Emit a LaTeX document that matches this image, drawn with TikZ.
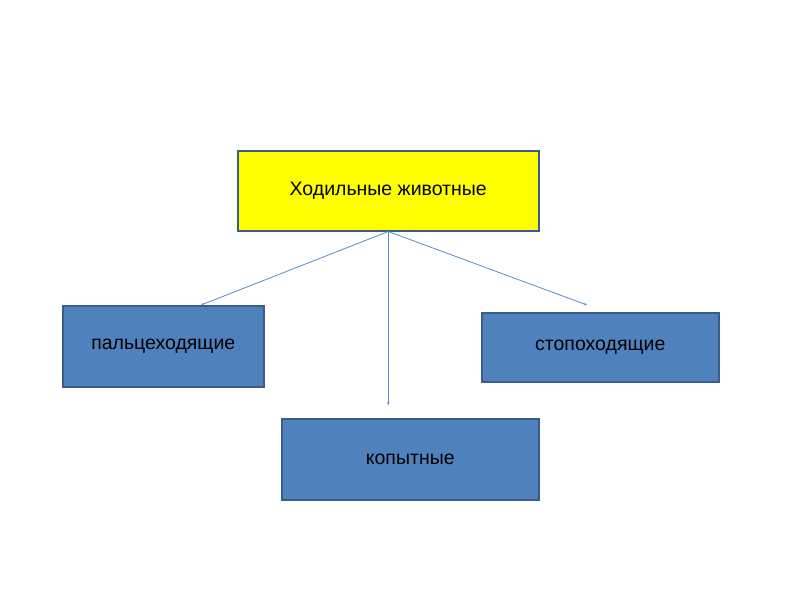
\documentclass[tikz,border=0pt]{standalone}
\usepackage{fontspec}
\setmainfont{Liberation Sans}
\usetikzlibrary{arrows.meta}
\definecolor{boxblue}{HTML}{4F81BD}
\definecolor{boxedge}{HTML}{385D8A}
\definecolor{topyellow}{HTML}{FFFF00}
\definecolor{linkblue}{HTML}{5B8CC8}
\begin{document}
\begin{tikzpicture}[x=1pt,y=-1pt,
  box/.style={draw=boxedge,line width=1.5pt,anchor=north west,inner sep=0pt,font=\fontsize{19.5}{23}\selectfont,text=black},
  link/.style={draw=linkblue,line width=0.8pt,-{Stealth[length=3pt,width=2.5pt]}}]
\useasboundingbox[fill=white] (0,0) rectangle (800,600);
\node[box,fill=topyellow,minimum width=301pt,minimum height=80pt] (top) at (237,150) {Ходильные животные};
\node[box,fill=boxblue,minimum width=201pt,minimum height=81pt] (left) at (62,305) {пальцеходящие};
\node[box,fill=boxblue,minimum width=237pt,minimum height=69pt] (right) at (481,312) {стопоходящие};
\node[box,fill=boxblue,minimum width=257pt,minimum height=81pt] (bottom) at (281,418) {копытные};
\coordinate (lend) at (201,305);
\coordinate (mend) at (top.south |- 0,405);
\coordinate (rend) at (587,305);
\draw[link] (top.south) -- (lend);
\draw[link] (top.south) -- (mend);
\draw[link] (top.south) -- (rend);
\end{tikzpicture}
\end{document}
